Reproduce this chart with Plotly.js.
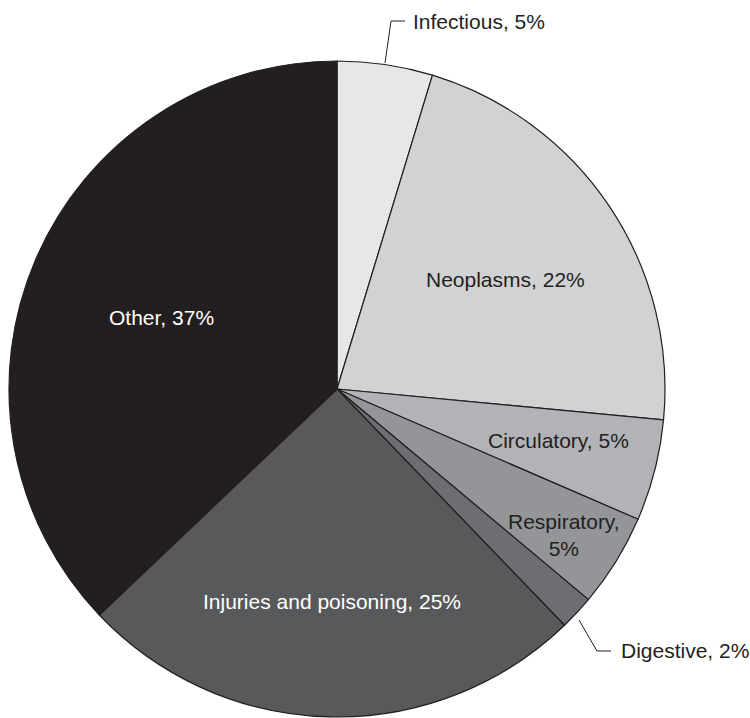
<!DOCTYPE html>
<html>
<head>
<meta charset="utf-8">
<script src="https://cdn.plot.ly/plotly-3.0.1.min.js"></script>
<style>html,body{margin:0;padding:0;background:#fff;}#chart{width:750px;height:718px;}</style>
</head>
<body>
<div id="chart"></div>
<script>
// Data
var categories = ["Infectious", "Neoplasms", "Circulatory", "Respiratory", "Digestive", "Injuries and poisoning", "Other"];
var values = [4.7, 21.8, 5.0, 4.6, 1.7, 25.1, 37.1];
var shownPercent = ["5%", "22%", "5%", "5%", "2%", "25%", "37%"];
var colors = ["#e6e7e8", "#d1d2d4", "#b1b3b6", "#939598", "#6d6e71", "#58595b", "#231f20"];

var W = 750, H = 718;
function px(x) { return x / W; }
function py(y) { return 1 - y / H; }

var FONT = "Liberation Sans, Arial, Helvetica, sans-serif";
var FS = 21;

// label placement (layout only)
var labelPos = [
  {x: 411, y: 22, anchor: "left", color: "#231f20"},
  {x: 505, y: 279, anchor: "center", color: "#231f20"},
  {x: 558, y: 440, anchor: "center", color: "#231f20"},
  {x: 564, y: 535, anchor: "center", color: "#231f20", wrap: true},
  {x: 619, y: 650, anchor: "left", color: "#231f20"},
  {x: 332, y: 601, anchor: "center", color: "#ffffff"},
  {x: 161, y: 317, anchor: "center", color: "#ffffff"}
];

var annotations = categories.map(function (c, i) {
  var p = labelPos[i];
  var txt = p.wrap ? (c + ",<br>" + shownPercent[i]) : (c + ", " + shownPercent[i]);
  return {
    text: txt, showarrow: false, xref: "paper", yref: "paper",
    x: px(p.x), y: py(p.y), xanchor: p.anchor, yanchor: "middle",
    align: "center",
    font: {family: FONT, size: FS, color: p.color}
  };
});

function path(pts) {
  return pts.map(function (p, i) { return (i ? "L" : "M") + px(p[0]) + "," + py(p[1]); }).join(" ");
}

var shapes = [
  {type: "path", xref: "paper", yref: "paper", path: path([[385, 63], [391, 21], [405, 21]]), line: {color: "#231f20", width: 1}},
  {type: "path", xref: "paper", yref: "paper", path: path([[579, 620], [597, 651], [611, 651]]), line: {color: "#231f20", width: 1}}
];

var trace = {
  type: "pie",
  labels: categories,
  values: values,
  sort: false,
  direction: "clockwise",
  rotation: 0,
  textinfo: "none",
  hoverinfo: "label+percent",
  marker: {colors: colors, line: {color: "#231f20", width: 1.2}},
  domain: {x: [px(9), px(665)], y: [py(717), py(61)]},
  showlegend: false
};

var layout = {
  width: W, height: H,
  margin: {l: 0, r: 0, t: 0, b: 0},
  paper_bgcolor: "#ffffff",
  showlegend: false,
  annotations: annotations,
  shapes: shapes
};

Plotly.newPlot("chart", [trace], layout, {displayModeBar: false, staticPlot: true});
</script>
</body>
</html>
